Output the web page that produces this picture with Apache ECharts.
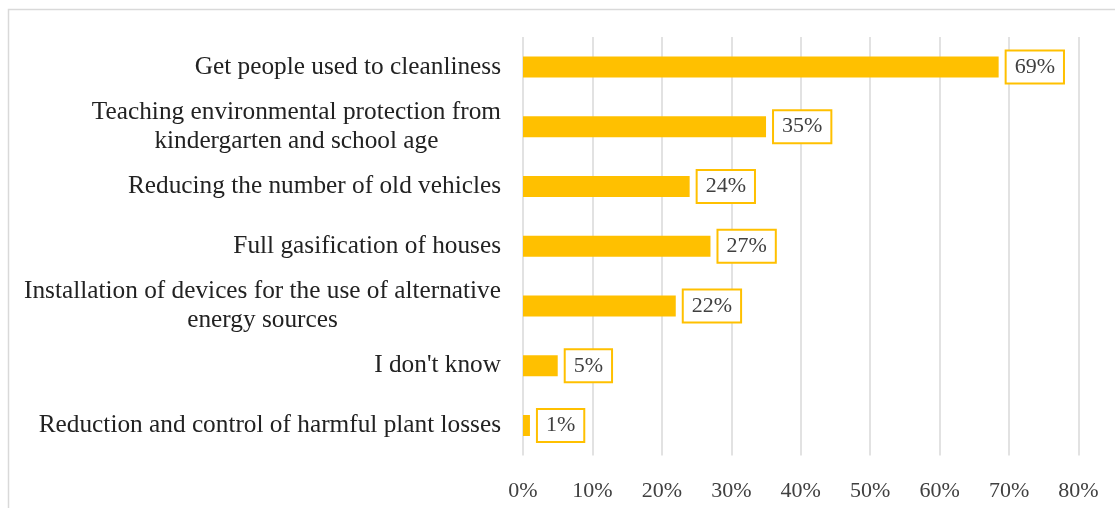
<!DOCTYPE html>
<html>

<head>
  <title>chart</title>
  <script src="https://cdn.jsdelivr.net/npm/echarts@6/dist/echarts.min.js"></script>
  <style>
    html, body { margin: 0; padding: 0; background: #fff; }
  </style>
</head>

<body>
  <div id="main" style="width: 1115px;height:508px;"></div>
  <script>
    var categories = [
      'Get people used to cleanliness',
      'Teaching environmental protection from\nkindergarten and school age',
      'Reducing the number of old vehicles',
      'Full gasification of houses',
      'Installation of devices for the use of alternative\nenergy sources',
      "I don't know",
      'Reduction and control of harmful plant losses'
    ];
    var values = [68.5, 35, 24, 27, 22, 5, 1];
    var xTicks = [0, 80, 10]; // min, max, step

    var font = "'Liberation Serif', 'Times New Roman', serif";
    var gold = '#FFC000';

    var myChart = echarts.init(document.getElementById('main'));
    var option = {
      animation: false,
      backgroundColor: '#fff',
      graphic: [{
        type: 'rect',
        shape: { x: 8.5, y: 9.5, width: 1200, height: 600 },
        style: { fill: 'none', stroke: '#d9d9d9', lineWidth: 1.5 },
        silent: true
      }],
      grid: { left: 523, right: 36.5, top: 37, bottom: 51 },
      xAxis: {
        type: 'value',
        min: xTicks[0],
        max: xTicks[1],
        interval: xTicks[2],
        axisLine: { show: false },
        axisTick: { show: false },
        splitLine: { show: true, lineStyle: { color: '#d9d9d9', width: 1.5 } },
        axisLabel: {
          formatter: '{value}%',
          margin: 19,
          color: '#404040',
          fontFamily: font,
          fontSize: 22
        }
      },
      yAxis: {
        type: 'category',
        inverse: true,
        data: categories,
        axisLine: { show: false },
        axisTick: { show: false },
        axisLabel: {
          margin: 22,
          color: '#222',
          fontFamily: font,
          fontSize: 25.3,
          lineHeight: 29,
          formatter: function (v) {
            return v.split('\n').map(function (l) { return '{c|' + l + '}'; }).join('\n');
          },
          rich: {
            c: { align: 'center', fontFamily: font, fontSize: 25.3, lineHeight: 29, color: '#222' }
          }
        }
      },
      series: [{
        type: 'bar',
        data: values,
        barWidth: 21,
        itemStyle: { color: gold },
        label: {
          show: true,
          position: 'right',
          distance: 8,
          formatter: function (p) { return Math.round(p.value) + '%'; },
          color: '#404040',
          fontFamily: font,
          fontSize: 22,
          lineHeight: 25,
          backgroundColor: '#fff',
          borderColor: gold,
          borderWidth: 2,
          padding: [3, 8]
        }
      }]
    };
    myChart.setOption(option);
  </script>
</body>

</html>
